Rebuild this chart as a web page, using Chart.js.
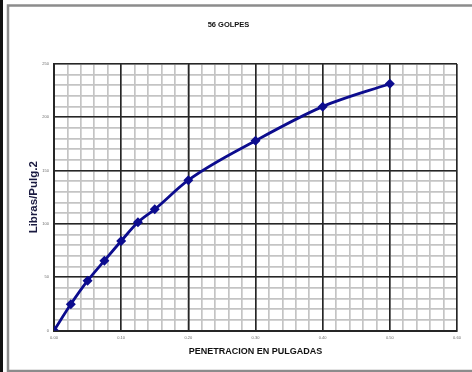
<!DOCTYPE html>
<html>
<head>
<meta charset="utf-8">
<script src="https://cdn.jsdelivr.net/npm/chart.js@4/dist/chart.umd.min.js"></script>
<style>
  html, body { margin: 0; padding: 0; background: #fff; }
  #wrap { width: 472px; height: 372px; position: relative; }
</style>
</head>
<body>
<div id="wrap"><canvas id="c" width="472" height="372"></canvas></div>
<script>
// Penetration (inches) and load (lb/in²) for the 56-blow specimen
const penetracion = [0, 0.025, 0.05, 0.075, 0.1, 0.125, 0.15, 0.2, 0.3, 0.4, 0.5];
const carga = [0, 24.6, 46.7, 65.5, 84, 101.5, 113.7, 141, 178, 210, 231.5];
const xTicksMajor = [0, 0.1, 0.2, 0.3, 0.4, 0.5, 0.6];
const yTicksMajor = [0, 50, 100, 150, 200, 250];

const FONT = "'Liberation Sans', Arial, sans-serif";

// Page frame: dark strip on the left and a grey border
const framePlugin = {
  id: 'frame',
  beforeDraw(chart) {
    const ctx = chart.ctx;
    ctx.save();
    ctx.fillStyle = '#fff';
    ctx.fillRect(0, 0, chart.width, chart.height);
    ctx.fillStyle = '#111';
    ctx.fillRect(0, 0, 3, chart.height);
    ctx.strokeStyle = '#8c8c8c';
    ctx.lineWidth = 2.5;
    ctx.strokeRect(8, 5.5, chart.width + 10, chart.height - 6.5);
    ctx.restore();
  }
};

const minorGrid = { color: '#c4c4c4', lineWidth: 1.7, drawTicks: false };
const zeroSize = (s) => { if (s.isHorizontal()) s.height = 0; else s.width = 0; };

new Chart(document.getElementById('c'), {
  type: 'line',
  data: {
    datasets: [{
      data: penetracion.map((x, i) => ({ x, y: carga[i] })),
      borderColor: '#0c0c8e',
      backgroundColor: '#0c0c8e',
      borderWidth: 2.8,
      tension: 0.35,
      cubicInterpolationMode: 'monotone',
      pointStyle: 'rectRot',
      pointRadius: 5,
      pointBorderWidth: 0,
      pointBackgroundColor: '#0c0c8e'
    }]
  },
  options: {
    responsive: false,
    animation: false,
    devicePixelRatio: 1,
    layout: { padding: { left: 0, right: 15, top: 0, bottom: 0 } },
    plugins: {
      legend: { display: false },
      tooltip: { enabled: false },
      title: {
        display: true,
        text: '56 GOLPES',
        color: '#111',
        font: { family: FONT, size: 7.5, weight: 'bold' },
        padding: { top: 20.5, bottom: 34.5 }
      }
    },
    scales: {
      xMinor: {
        type: 'linear', axis: 'x', position: 'bottom', min: 0, max: 0.6, z: -1,
        ticks: { stepSize: 0.02, display: false },
        grid: minorGrid,
        border: { display: false },
        afterFit: zeroSize
      },
      yMinor: {
        type: 'linear', axis: 'y', position: 'left', min: 0, max: 250, z: -1,
        ticks: { stepSize: 10, display: false },
        grid: minorGrid,
        border: { display: false },
        afterFit: zeroSize
      },
      x: {
        type: 'linear', position: 'bottom', min: 0, max: 0.6, z: 0,
        afterBuildTicks: (s) => { s.ticks = xTicksMajor.map(v => ({ value: v })); },
        ticks: {
          padding: 4.5,
          color: '#6a6a6a',
          font: { family: FONT, size: 4 },
          callback: (v) => Number(v).toFixed(2)
        },
        grid: { color: '#262626', lineWidth: 1.6, drawTicks: false },
        border: { color: '#262626', width: 2 },
        title: {
          display: true,
          text: 'PENETRACION EN PULGADAS',
          color: '#111',
          font: { family: FONT, size: 9, weight: 'bold' },
          padding: { top: 0, bottom: 15 }
        },
        afterFit: (s) => { s.height = 41.5; }
      },
      y: {
        type: 'linear', position: 'left', min: 0, max: 250, z: 0,
        afterBuildTicks: (s) => { s.ticks = yTicksMajor.map(v => ({ value: v })); },
        ticks: {
          padding: 5,
          color: '#6a6a6a',
          font: { family: FONT, size: 4 }
        },
        grid: { color: '#262626', lineWidth: 1.6, drawTicks: false },
        border: { color: '#262626', width: 2 },
        title: {
          display: true,
          text: 'Libras/Pulg.2',
          color: '#1a1a40',
          font: { family: FONT, size: 11.5, weight: 'bold' },
          padding: { top: 26.5, bottom: 0 }
        },
        afterFit: (s) => { s.width = 54; }
      }
    }
  },
  plugins: [framePlugin]
});
</script>
</body>
</html>
